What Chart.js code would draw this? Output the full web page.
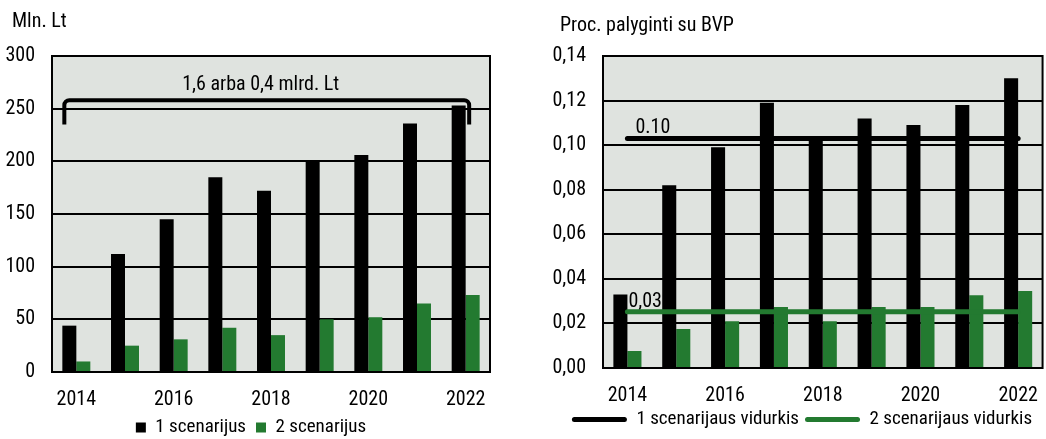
<!DOCTYPE html>
<html>
<head>
<meta charset="utf-8">
<script src="https://cdn.jsdelivr.net/npm/chart.js@4.4.1/dist/chart.umd.min.js"></script>
<style>
  html, body { margin: 0; padding: 0; background: #ffffff; overflow: hidden; width: 1046px; height: 439px; }
  #left  { position: absolute; left: 0;     top: 0; width: 520px; height: 447px; }
  #right { position: absolute; left: 520px; top: 0; width: 526px; height: 439px; }
</style>
</head>
<body>
<div id="left"><canvas id="mlnChart" width="520" height="447"></canvas></div>
<div id="right"><canvas id="bvpChart" width="526" height="439"></canvas></div>
<script>
// Years on the horizontal axis
const years = ['2014', '2015', '2016', '2017', '2018', '2019', '2020', '2021', '2022'];

// Costs, mln. Lt
const mlnScenario1 = [44, 112, 145, 185, 172, 201, 206, 236, 253];
const mlnScenario2 = [10, 25, 31, 42, 35, 50, 52, 65, 73];

// Costs as a share of GDP, %
const bvpScenario1 = [0.033, 0.082, 0.099, 0.119, 0.103, 0.112, 0.109, 0.118, 0.130];
const bvpScenario2 = [0.0076, 0.0175, 0.021, 0.0274, 0.021, 0.0274, 0.0274, 0.0327, 0.0345];

// Period averages
const avgScenario1 = [0.103, 0.103, 0.103, 0.103, 0.103, 0.103, 0.103, 0.103, 0.103];
const avgScenario2 = [0.0252, 0.0252, 0.0252, 0.0252, 0.0252, 0.0252, 0.0252, 0.0252, 0.0252];

// Decimal separator used in each average's label
const avgLabelSeparators = ['.', ','];

// Bracket over the whole period: totals for both scenarios
const bracketText = '1,6 arba 0,4 mlrd. Lt';
const bracketTop = 258;
const bracketLeg = 235;

const legendNames = ['1 scenarijus', '2 scenarijus'];
const avgNames = ['1 scenarijaus vidurkis', '2 scenarijaus vidurkis'];

const FONT = "'Roboto Condensed', 'Liberation Sans', sans-serif";
const FONT_SIZE = 20;
const LEGEND_SIZE = 19;
const BLACK = '#000000';
const GREEN = '#237a30';
const PLOT_BG = '#dfe3df';

Chart.defaults.font.family = FONT;
Chart.defaults.font.size = FONT_SIZE;
Chart.defaults.color = BLACK;
Chart.defaults.animation = false;

// Let tick labels extend past their scale box
function unclipLabels(scale) {
  scale._computeLabelArea = () => undefined;
}

// Plot background and frame
const plotFrame = {
  id: 'plotFrame',
  beforeDraw(chart) {
    const { ctx, chartArea: a } = chart;
    ctx.save();
    ctx.fillStyle = PLOT_BG;
    ctx.fillRect(a.left, a.top, a.right - a.left, a.bottom - a.top);
    ctx.restore();
  },
  afterDraw(chart) {
    const { ctx, chartArea: a } = chart;
    ctx.save();
    ctx.strokeStyle = BLACK;
    ctx.lineWidth = 2;
    ctx.strokeRect(a.left, a.top, a.right - a.left, a.bottom - a.top);
    ctx.restore();
  }
};

// Bracket spanning all years with the total written above it
const totalBracket = {
  id: 'totalBracket',
  afterDatasetsDraw(chart) {
    const { ctx, scales: { x, y } } = chart;
    const left = x.getPixelForValue(0) - 12;
    const right = x.getPixelForValue(years.length - 1) + 3.5;
    const top = y.getPixelForValue(bracketTop);
    const leg = y.getPixelForValue(bracketLeg);
    const r = 5;
    ctx.save();
    ctx.strokeStyle = BLACK;
    ctx.lineWidth = 4;
    ctx.lineCap = 'butt';
    ctx.lineJoin = 'round';
    ctx.beginPath();
    ctx.moveTo(left, leg);
    ctx.arcTo(left, top, left + r, top, r);
    ctx.arcTo(right, top, right, top + r, r);
    ctx.lineTo(right, leg);
    ctx.stroke();
    ctx.fillStyle = BLACK;
    ctx.font = FONT_SIZE + 'px ' + FONT;
    ctx.textAlign = 'center';
    ctx.textBaseline = 'alphabetic';
    ctx.fillText(bracketText, (left + right) / 2 - 6, top - 10);
    ctx.restore();
  }
};

// Value labels at the start of the average lines
const avgLabels = {
  id: 'avgLabels',
  beforeDatasetsDraw(chart) {
    const { ctx } = chart;
    const offsets = [8, 1];
    ctx.save();
    ctx.fillStyle = BLACK;
    ctx.font = FONT_SIZE + 'px ' + FONT;
    ctx.textAlign = 'left';
    ctx.textBaseline = 'alphabetic';
    [2, 3].forEach((di, k) => {
      const pt = chart.getDatasetMeta(di).data[0];
      const value = chart.data.datasets[di].data[0];
      const text = value.toFixed(2).replace('.', avgLabelSeparators[k]);
      ctx.fillText(text, pt.x + offsets[k], pt.y - 5);
    });
    ctx.restore();
  }
};

function evenYearTicks(val, idx) {
  return idx % 2 === 0 ? this.getLabelForValue(val) : '';
}

new Chart(document.getElementById('mlnChart'), {
  type: 'bar',
  data: {
    labels: years,
    datasets: [
      { label: legendNames[0], data: mlnScenario1, backgroundColor: BLACK, borderWidth: 0,
        categoryPercentage: 0.575, barPercentage: 1 },
      { label: legendNames[1], data: mlnScenario2, backgroundColor: GREEN, borderWidth: 0,
        categoryPercentage: 0.575, barPercentage: 1 }
    ]
  },
  options: {
    responsive: false,
    layout: { padding: { left: 12, right: 30, top: 0, bottom: 0 } },
    plugins: {
      title: { display: true, text: 'Mln. Lt', align: 'start', color: BLACK,
               font: { size: FONT_SIZE, weight: 'normal' }, padding: { top: 10, bottom: 22 } },
      legend: { position: 'bottom',
                labels: { boxWidth: 10, boxHeight: 10, padding: 10, color: BLACK,
                          font: { size: LEGEND_SIZE } } },
      tooltip: { enabled: false }
    },
    scales: {
      x: {
        grid: { display: false },
        border: { display: true, color: BLACK, width: 2 },
        ticks: { autoSkip: false, maxRotation: 0, padding: 8, color: BLACK, callback: evenYearTicks },
        afterFit(s) { s.height = 36; unclipLabels(s); }
      },
      y: {
        min: 0, max: 300,
        ticks: { stepSize: 50, padding: 17, color: BLACK },
        grid: { color: BLACK, lineWidth: 2, drawTicks: false },
        border: { color: BLACK, width: 2 },
        afterFit(s) { s.width = 40; unclipLabels(s); }
      }
    }
  },
  plugins: [plotFrame, totalBracket]
});

new Chart(document.getElementById('bvpChart'), {
  type: 'bar',
  data: {
    labels: years,
    datasets: [
      { label: legendNames[0], data: bvpScenario1, backgroundColor: BLACK, borderWidth: 0,
        categoryPercentage: 0.575, barPercentage: 1, order: 1 },
      { label: legendNames[1], data: bvpScenario2, backgroundColor: GREEN, borderWidth: 0,
        categoryPercentage: 0.575, barPercentage: 1, order: 1 },
      { type: 'line', label: avgNames[0], data: avgScenario1, borderColor: BLACK, backgroundColor: BLACK,
        borderWidth: 5, borderCapStyle: 'round', pointRadius: 0, order: 0 },
      { type: 'line', label: avgNames[1], data: avgScenario2, borderColor: GREEN, backgroundColor: GREEN,
        borderWidth: 5, borderCapStyle: 'round', pointRadius: 0, order: 0 }
    ]
  },
  options: {
    responsive: false,
    layout: { padding: { left: 40, right: 2, top: 0, bottom: 0 } },
    plugins: {
      title: { display: true, text: 'Proc. palyginti su BVP', align: 'start', color: BLACK,
               font: { size: FONT_SIZE, weight: 'normal' }, padding: { top: 14, bottom: 18 } },
      legend: {
        position: 'bottom',
        labels: {
          boxWidth: 55, boxHeight: 5, padding: 6, color: BLACK, font: { size: LEGEND_SIZE },
          useBorderRadius: true, borderRadius: 2.5,
          filter: (item) => item.datasetIndex >= 2,
          generateLabels(chart) {
            const items = Chart.defaults.plugins.legend.labels.generateLabels(chart);
            items.forEach((it) => { it.lineWidth = 0; it.fillStyle = it.strokeStyle; });
            return items;
          }
        }
      },
      tooltip: { enabled: false }
    },
    scales: {
      x: {
        grid: { display: false },
        border: { display: true, color: BLACK, width: 2 },
        ticks: { autoSkip: false, maxRotation: 0, padding: 8, color: BLACK, callback: evenYearTicks },
        afterFit(s) { s.height = 36; unclipLabels(s); }
      },
      y: {
        min: 0, max: 0.14,
        ticks: { stepSize: 0.02, padding: 17, color: BLACK,
                 callback: (v) => v.toFixed(2).replace('.', ',') },
        grid: { color: BLACK, lineWidth: 2, drawTicks: false },
        border: { color: BLACK, width: 2 },
        afterFit(s) { s.width = 43; unclipLabels(s); }
      }
    }
  },
  plugins: [plotFrame, avgLabels]
});
</script>
</body>
</html>
